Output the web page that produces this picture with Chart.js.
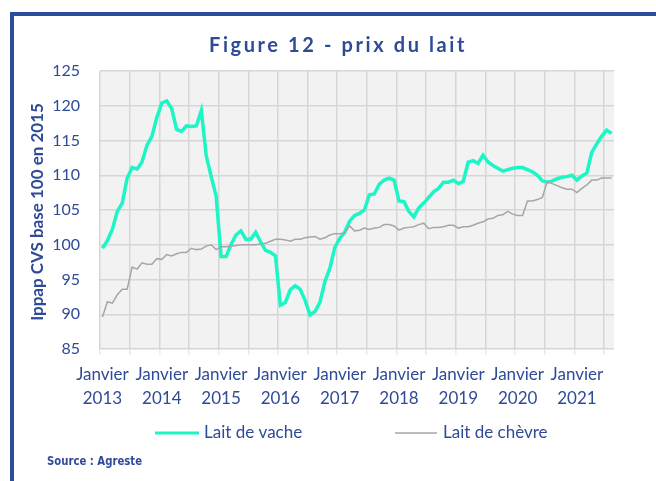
<!DOCTYPE html>
<html>
<head>
<meta charset="utf-8">
<script src="https://cdn.jsdelivr.net/npm/chart.js@4.4.1/dist/chart.umd.min.js"></script>
<style>
  html, body { margin: 0; padding: 0; background: #ffffff; }
  #graphique { display: block; }
</style>
</head>
<body>
<canvas id="graphique" width="656" height="481"></canvas>
<script>
// Données (indice Ippap CVS, base 100 en 2015), janvier 2013 -> août 2021
var annees = ['2013', '2014', '2015', '2016', '2017', '2018', '2019', '2020', '2021'];
var moisParAn = ['01', '02', '03', '04', '05', '06', '07', '08', '09', '10', '11', '12'];

var laitVache = [
    99.5, 100.6, 102.2, 104.8, 106.0, 109.6, 111.1, 110.9, 111.9, 114.3, 115.6, 118.3,
    120.4, 120.7, 119.6, 116.6, 116.3, 117.1, 117.0, 117.1, 119.3, 112.8, 109.8, 107.0,
    98.3, 98.3, 100.0, 101.4, 102.0, 100.8, 100.8, 101.8, 100.4, 99.2, 98.9, 98.4,
    91.3, 91.7, 93.5, 94.1, 93.6, 92.0, 89.9, 90.4, 91.7, 94.7, 96.6, 99.6,
    100.9, 101.8, 103.4, 104.2, 104.5, 105.0, 107.2, 107.3, 108.7, 109.3, 109.6, 109.3,
    106.3, 106.2, 104.8, 104.0, 105.3, 106.0, 106.8, 107.6, 108.1, 109.0, 109.0, 109.3,
    108.8, 109.1, 111.9, 112.1, 111.7, 112.9, 111.9, 111.4, 111.0, 110.6, 110.8, 111.0,
    111.1, 111.1, 110.8, 110.5, 110.0, 109.2, 109.0, 109.2, 109.5, 109.7, 109.8, 110.0,
    109.3, 109.9, 110.3, 113.3, 114.5, 115.6, 116.5, 116.0
];

var laitChevre = [
    89.6, 91.8, 91.6, 92.8, 93.6, 93.6, 96.8, 96.5, 97.4, 97.2, 97.2, 98.0,
    97.9, 98.6, 98.4, 98.7, 98.9, 98.9, 99.5, 99.3, 99.4, 99.8, 100.0, 99.3,
    99.7, 99.7, 99.8, 99.9, 100.0, 100.0, 100.0, 100.0, 100.1, 100.2, 100.5, 100.8,
    100.8, 100.7, 100.5, 100.8, 100.8, 101.0, 101.1, 101.2, 100.8, 101.0, 101.4, 101.6,
    101.6, 101.7, 102.7, 102.0, 102.1, 102.4, 102.2, 102.4, 102.5, 102.9, 102.9, 102.7,
    102.1, 102.4, 102.5, 102.6, 102.9, 103.1, 102.3, 102.5, 102.5, 102.6, 102.8, 102.8,
    102.4, 102.6, 102.6, 102.8, 103.1, 103.3, 103.7, 103.8, 104.2, 104.3, 104.8, 104.4,
    104.2, 104.2, 106.3, 106.3, 106.5, 106.8, 109.1, 108.8, 108.5, 108.2, 108.0, 108.0,
    107.5, 108.1, 108.6, 109.3, 109.3, 109.6, 109.6, 109.6
];

var couleurTexte = '#2f4b98';
var couleurCadre = '#2d4c9e';

// Libellés des mois (aaaa-mm), un par point
function construireMois() {
    var mois = [];
    annees.forEach(function (an) {
        moisParAn.forEach(function (m) {
            if (mois.length < laitVache.length) {
                mois.push(an + '-' + m);
            }
        });
    });
    return mois;
}

// Plugin : fond gris de la zone de tracé
var fondZone = {
    id: 'fondZone',
    beforeDraw: function (chart) {
        var ctx = chart.ctx;
        var a = chart.chartArea;
        ctx.save();
        ctx.fillStyle = '#ffffff';
        ctx.fillRect(0, 0, chart.width, chart.height);
        ctx.fillStyle = '#f2f2f2';
        ctx.fillRect(a.left, a.top, a.right - a.left, a.bottom - a.top);
        ctx.restore();
    }
};

// Plugin : cadre bleu, titre, titre d'axe, légende et source
var habillage = {
    id: 'habillage',
    afterDraw: function (chart) {
        var ctx = chart.ctx;
        ctx.save();

        // cadre
        ctx.fillStyle = couleurCadre;
        ctx.fillRect(10, 12, 4, chart.height - 12);
        ctx.fillRect(10, 12, chart.width - 10, 4);

        // titre
        ctx.fillStyle = couleurTexte;
        ctx.font = 'bold 20px Lato';
        ctx.letterSpacing = '2.6px';
        ctx.textAlign = 'center';
        ctx.textBaseline = 'middle';
        ctx.fillText('Figure 12 - prix du lait', 338, 46);
        ctx.letterSpacing = '0px';

        // titre de l'axe vertical
        ctx.save();
        ctx.translate(38, 212);
        ctx.rotate(-Math.PI / 2);
        ctx.font = 'bold 17px Lato';
        ctx.fillText('Ippap CVS base 100 en 2015', 0, 0);
        ctx.restore();

        // légende
        ctx.textAlign = 'left';
        ctx.font = '17px Lato';
        ctx.strokeStyle = chart.data.datasets[0].borderColor;
        ctx.lineWidth = 3;
        ctx.beginPath();
        ctx.moveTo(155, 433);
        ctx.lineTo(199, 433);
        ctx.stroke();
        ctx.fillText(chart.data.datasets[0].label, 204, 433);

        ctx.strokeStyle = chart.data.datasets[1].borderColor;
        ctx.lineWidth = 1.5;
        ctx.beginPath();
        ctx.moveTo(395, 433);
        ctx.lineTo(437, 433);
        ctx.stroke();
        ctx.fillText(chart.data.datasets[1].label, 443, 433);

        // source
        ctx.font = 'bold 13px "DejaVu Sans Condensed", "Liberation Sans Narrow", sans-serif';
        var largeur = ctx.measureText('Source : Agreste').width;
        ctx.translate(47, 462);
        ctx.scale(95 / largeur, 1);
        ctx.fillText('Source : Agreste', 0, 0);

        ctx.restore();
    }
};

// Création du graphique
function creerGraphique() {
    var ctx = document.getElementById('graphique');
    var mois = construireMois();

    new Chart(ctx, {
        type: 'line',
        data: {
            labels: mois,
            datasets: [{
                label: 'Lait de vache',
                data: laitVache,
                borderColor: '#1cf5c6',
                borderWidth: 3.5,
                pointRadius: 0,
                tension: 0,
                order: 2
            }, {
                label: 'Lait de chèvre',
                data: laitChevre,
                borderColor: '#a6a6a6',
                borderWidth: 1.5,
                pointRadius: 0,
                tension: 0,
                order: 1
            }]
        },
        options: {
            responsive: false,
            animation: false,
            events: [],
            layout: { padding: { top: 71, right: 42, bottom: 0, left: 0 } },
            plugins: {
                legend: { display: false },
                title: { display: false },
                tooltip: { enabled: false }
            },
            scales: {
                x: {
                    type: 'category',
                    offset: true,
                    afterFit: function (scale) { scale.height = 132; },
                    border: { display: false },
                    grid: {
                        offset: true,
                        drawTicks: true,
                        tickLength: 6,
                        lineWidth: 1.5,
                        color: function (c) {
                            if (c.type !== 'tick' || c.index % 6 !== 0) return 'rgba(0,0,0,0)';
                            return '#d6d6d6';
                        },
                        tickColor: function (c) {
                            if (c.type !== 'tick' || c.index % 6 !== 0) return 'rgba(0,0,0,0)';
                            return '#ececec';
                        }
                    },
                    ticks: {
                        autoSkip: false,
                        maxRotation: 0,
                        minRotation: 0,
                        padding: 7,
                        color: couleurTexte,
                        font: { family: 'Lato', size: 17, lineHeight: 1.45 },
                        callback: function (valeur, index) {
                            if (index % 12 !== 0) return '';
                            return ['Janvier', annees[index / 12]];
                        }
                    }
                },
                y: {
                    min: 85,
                    max: 125,
                    afterFit: function (scale) { scale.width = 100; },
                    border: { display: false },
                    grid: { color: '#d6d6d6', lineWidth: 1.5, drawTicks: false },
                    ticks: {
                        stepSize: 5,
                        padding: 20,
                        color: couleurTexte,
                        font: { family: 'Lato', size: 16 }
                    }
                }
            }
        },
        plugins: [fondZone, habillage]
    });
}

creerGraphique();
</script>
</body>
</html>
